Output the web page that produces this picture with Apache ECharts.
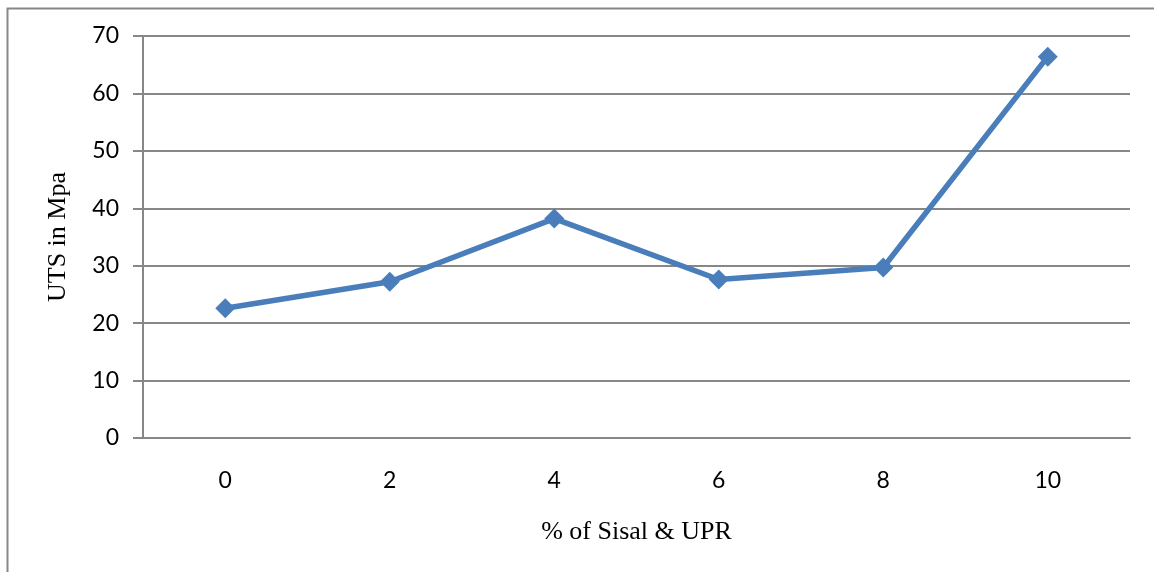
<!DOCTYPE html>
<html>
<head>
<meta charset="utf-8">
<script src="https://cdn.jsdelivr.net/npm/echarts@6/dist/echarts.min.js"></script>
<style>
  html, body { margin: 0; padding: 0; background: #fff; }
  #chart { width: 1154px; height: 572px; }
</style>
</head>
<body>
<div id="chart"></div>
<script>
const categories = ['0', '2', '4', '6', '8', '10']
const utsValues = [22.6, 27.2, 38.2, 27.6, 29.7, 66.4]
const yTicks = { min: 0, max: 70, interval: 10 }

const myChart = echarts.init(document.getElementById('chart'))
const option = {
  animation: false,
  graphic: [
    {
      type: 'rect',
      shape: { x: 7.5, y: 8.5, width: 1200, height: 700 },
      style: { fill: 'none', stroke: '#878787', lineWidth: 2 },
      silent: true,
    },
  ],
  grid: { left: 143, right: 24, top: 36, bottom: 134 },
  xAxis: {
    type: 'category',
    data: categories,
    boundaryGap: true,
    name: '% of Sisal & UPR',
    nameLocation: 'middle',
    nameGap: 81,
    nameTextStyle: { fontFamily: 'Liberation Serif', fontSize: 26, color: '#000' },
    axisLine: { lineStyle: { color: '#878787', width: 2 } },
    axisTick: { show: false },
    axisLabel: { fontFamily: 'Lato', fontSize: 23, color: '#000', margin: 31 },
  },
  yAxis: {
    type: 'value',
    min: yTicks.min,
    max: yTicks.max,
    interval: yTicks.interval,
    name: 'UTS in Mpa',
    nameLocation: 'middle',
    nameGap: 72,
    nameTextStyle: { fontFamily: 'Liberation Serif', fontSize: 26, color: '#000' },
    axisLine: { show: true, lineStyle: { color: '#878787', width: 2 } },
    axisTick: { show: true, length: 10, lineStyle: { color: '#878787', width: 2 } },
    axisLabel: { fontFamily: 'Lato', fontSize: 23, color: '#000', margin: 24 },
    splitLine: { lineStyle: { color: '#878787', width: 2 } },
  },
  series: [
    {
      type: 'line',
      data: utsValues,
      symbol: 'diamond',
      symbolSize: 20,
      itemStyle: { color: '#4a7ebb' },
      lineStyle: { color: '#4a7ebb', width: 5.5 },
    },
  ],
}
myChart.setOption(option)
</script>
</body>
</html>
